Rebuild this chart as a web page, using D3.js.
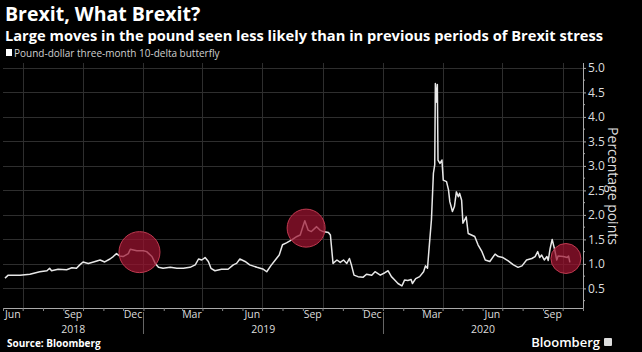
<!DOCTYPE html>
<html>
<head>
<meta charset="utf-8">
<script src="https://cdn.jsdelivr.net/npm/d3@7"></script>
<style>
  html, body { margin: 0; padding: 0; background: #000; }
  svg { display: block; }
  text { font-family: "Open Sans", "DejaVu Sans", sans-serif; }
</style>
</head>
<body>
<div id="app"></div>
<script>
// butterfly series (date, percentage points)
const dates = [
  '2018-06-04','2018-06-09','2018-06-27','2018-07-12','2018-07-27','2018-08-07','2018-08-11','2018-08-14',
  '2018-08-24','2018-09-06','2018-09-14','2018-09-21','2018-09-26','2018-10-01','2018-10-09','2018-10-17',
  '2018-10-27','2018-11-03','2018-11-11','2018-11-16','2018-11-21','2018-11-26','2018-12-01','2018-12-09',
  '2018-12-12','2018-12-22','2019-01-01','2019-01-06','2019-01-14','2019-01-19','2019-01-24','2019-01-31',
  '2019-02-11','2019-02-21','2019-03-03','2019-03-13','2019-03-21','2019-03-26','2019-03-31','2019-04-05',
  '2019-04-10','2019-04-14','2019-04-20','2019-04-30','2019-05-10','2019-05-18','2019-05-23','2019-05-28',
  '2019-06-05','2019-06-12','2019-06-23','2019-07-03','2019-07-08','2019-07-14','2019-07-21','2019-07-27',
  '2019-08-01','2019-08-07','2019-08-15','2019-08-23','2019-08-28','2019-09-01','2019-09-04','2019-09-09',
  '2019-09-14','2019-09-22','2019-09-27','2019-10-02','2019-10-10','2019-10-13','2019-10-17','2019-10-23',
  '2019-10-28','2019-11-02','2019-11-07','2019-11-11','2019-11-14','2019-11-18','2019-11-24','2019-12-02',
  '2019-12-07','2019-12-15','2019-12-20','2019-12-28','2020-01-04','2020-01-09','2020-01-14','2020-01-19',
  '2020-01-24','2020-01-30','2020-02-03','2020-02-08','2020-02-13','2020-02-15','2020-02-20','2020-02-26',
  '2020-03-03','2020-03-06','2020-03-09','2020-03-11','2020-03-15','2020-03-18','2020-03-20','2020-03-21',
  '2020-03-23','2020-03-24','2020-03-25','2020-03-28','2020-03-31','2020-04-02','2020-04-07','2020-04-10',
  '2020-04-12','2020-04-16','2020-04-19','2020-04-22','2020-04-25','2020-04-27','2020-04-30','2020-05-02',
  '2020-05-07','2020-05-10','2020-05-15','2020-05-20','2020-05-25','2020-05-31','2020-06-05','2020-06-12',
  '2020-06-20','2020-06-25','2020-07-02','2020-07-10','2020-07-18','2020-07-25','2020-07-31','2020-08-07',
  '2020-08-15','2020-08-20','2020-08-24','2020-08-27','2020-08-30','2020-09-03','2020-09-07','2020-09-09',
  '2020-09-12','2020-09-15','2020-09-19','2020-09-22','2020-09-24','2020-10-02','2020-10-08','2020-10-10',
  '2020-10-12'
];
const butterfly = [
  0.71,0.77,0.77,0.79,0.84,0.86,0.91,0.86,
  0.89,0.88,0.92,0.91,0.98,1.04,1.01,1.04,
  1.08,1.04,1.10,1.15,1.21,1.16,1.15,1.21,
  1.30,1.27,1.27,1.25,1.15,1.01,0.93,0.91,
  0.93,0.91,0.91,0.93,0.98,1.10,1.08,1.13,
  1.05,0.91,0.86,0.89,0.89,0.98,1.01,1.10,
  1.05,0.98,0.93,0.89,0.84,0.96,1.08,1.18,
  1.39,1.43,1.49,1.56,1.59,1.76,1.88,1.69,
  1.66,1.76,1.69,1.66,1.64,1.59,1.01,1.08,
  1.03,1.08,1.01,1.11,0.98,0.77,0.74,0.73,
  0.79,0.77,0.84,0.77,0.82,0.86,0.74,0.67,
  0.60,0.55,0.67,0.66,0.68,0.60,0.70,0.74,
  0.84,0.96,0.91,1.25,1.90,2.85,3.02,4.68,
  4.30,4.66,3.12,3.05,3.12,2.71,2.68,2.51,
  2.27,2.07,2.17,2.47,2.37,2.44,2.30,1.83,
  1.96,1.62,1.59,1.56,1.39,1.25,1.08,1.05,
  1.20,1.15,1.13,1.06,0.98,0.93,0.96,1.08,
  1.11,1.15,1.25,1.13,1.18,1.08,1.15,1.07,
  1.32,1.50,1.28,1.08,1.16,1.15,1.13,1.16,
  1.03
];

// highlighted stress periods (circle centres)
const highlightDates = ['2018-12-26', '2019-09-06', '2020-10-06'];
const highlightValues = [1.24, 1.73, 1.11];
const highlightRadius = [20.5, 19, 15];

const yTicks = [0.5, 1.0, 1.5, 2.0, 2.5, 3.0, 3.5, 4.0, 4.5, 5.0];
const monthLabels = ['Jun', 'Sep', 'Dec', 'Mar', 'Jun', 'Sep', 'Dec', 'Mar', 'Jun', 'Sep'];
const years = [2018, 2019, 2020];

const W = 642, H = 352;
const plot = { left: 3, right: 583, top: 63, bottom: 308 };
const parse = d3.timeParse('%Y-%m-%d');
const series = dates.map((d, i) => ({ date: parse(d), value: butterfly[i] }));

const x = d3.scaleTime()
  .domain([new Date(2018, 5, 1), new Date(2020, 10, 1)])
  .range([plot.left, plot.right]);
const y = d3.scaleLinear()
  .domain([0.1, 5.1])
  .range([plot.bottom, plot.top]);

const svg = d3.select('#app').append('svg')
  .attr('width', W)
  .attr('height', H)
  .style('background', '#000');

// titles
svg.append('text')
  .attr('x', 5).attr('y', 21)
  .attr('fill', '#fff')
  .style('font-size', '19.5px').style('font-weight', 700)
  .text('Brexit, What Brexit?');
svg.append('text')
  .attr('x', 5).attr('y', 41)
  .attr('fill', '#fff')
  .style('font-size', '14px').style('font-weight', 700)
  .attr('textLength', 598).attr('lengthAdjust', 'spacingAndGlyphs')
  .text('Large moves in the pound seen less likely than in previous periods of Brexit stress');

// legend
svg.append('rect')
  .attr('x', 6).attr('y', 49).attr('width', 6).attr('height', 7)
  .attr('fill', '#fff');
svg.append('text')
  .attr('x', 14).attr('y', 57)
  .attr('fill', '#d0d0d0')
  .style('font-size', '10px')
  .text('Pound-dollar three-month 10-delta butterfly');

// grid
const grid = svg.append('g').attr('stroke', '#2e2e2e').attr('stroke-width', 1);
grid.selectAll('.hg')
  .data(yTicks)
  .enter().append('line')
  .attr('x1', plot.left).attr('x2', plot.right)
  .attr('y1', d => Math.round(y(d)) + 0.5).attr('y2', d => Math.round(y(d)) + 0.5);
grid.selectAll('.vg')
  .data(d3.timeMonth.range(new Date(2018, 6, 1), x.domain()[1], 3))
  .enter().append('line')
  .attr('x1', d => Math.round(x(d)) + 0.5).attr('x2', d => Math.round(x(d)) + 0.5)
  .attr('y1', plot.top).attr('y2', plot.bottom);

// right axis
const yAxis = svg.append('g')
  .attr('transform', `translate(${plot.right},0)`)
  .call(d3.axisRight(y).tickValues(yTicks).tickFormat(d3.format('.1f')).tickSize(3).tickPadding(2));
yAxis.select('.domain').attr('d', `M0.5,${plot.top}V${plot.bottom}`);
yAxis.selectAll('line').attr('stroke', '#aaa');
yAxis.select('.domain').attr('stroke', '#aaa');
yAxis.selectAll('text').attr('fill', '#ddd').style('font-size', '12px');
svg.append('g')
  .attr('stroke', '#aaa')
  .selectAll('line')
  .data(d3.range(0.25, 5.1, 0.5))
  .enter().append('line')
  .attr('x1', plot.right).attr('x2', plot.right + 2)
  .attr('y1', d => y(d)).attr('y2', d => y(d));

svg.append('text')
  .attr('transform', `translate(608,186) rotate(90)`)
  .attr('text-anchor', 'middle')
  .attr('fill', '#ddd')
  .style('font-size', '14px')
  .text('Percentage points');

// bottom axis
const xAxis = svg.append('g')
  .attr('transform', `translate(0,${plot.bottom})`)
  .call(d3.axisBottom(x).ticks(d3.timeMonth.every(1)).tickSize(3).tickFormat(''));
xAxis.select('.domain').attr('d', `M${plot.left},0.5H${plot.right}`).attr('stroke', '#aaa');
xAxis.selectAll('line').attr('stroke', '#888');

const labelMonths = d3.timeMonth.range(new Date(2018, 5, 1), new Date(2020, 9, 1), 3);
svg.append('g')
  .selectAll('text')
  .data(labelMonths)
  .enter().append('text')
  .attr('x', d => x(d3.timeDay.offset(d, 15)))
  .attr('y', 318)
  .attr('text-anchor', 'middle')
  .attr('fill', '#ddd')
  .style('font-size', '10.5px')
  .text((d, i) => monthLabels[i]);

svg.append('g')
  .selectAll('text')
  .data(years)
  .enter().append('text')
  .attr('x', d => {
    const a = Math.max(x(new Date(d, 0, 1)), plot.left);
    const b = Math.min(x(new Date(d + 1, 0, 1)), plot.right);
    return (a + b) / 2;
  })
  .attr('y', 333)
  .attr('text-anchor', 'middle')
  .attr('fill', '#ddd')
  .style('font-size', '10.5px')
  .text(d => d);

svg.append('g')
  .attr('stroke', '#666')
  .selectAll('line')
  .data([new Date(2019, 0, 1), new Date(2020, 0, 1)])
  .enter().append('line')
  .attr('x1', d => Math.round(x(d)) + 0.5).attr('x2', d => Math.round(x(d)) + 0.5)
  .attr('y1', 312).attr('y2', 334);

// line
const line = d3.line()
  .x(d => x(d.date))
  .y(d => y(d.value));
svg.append('path')
  .datum(series)
  .attr('fill', 'none')
  .attr('stroke', '#e8e8e8')
  .attr('stroke-width', 1.5)
  .attr('stroke-linejoin', 'round')
  .attr('d', line);

// highlight circles
svg.append('g')
  .selectAll('circle')
  .data(highlightDates)
  .enter().append('circle')
  .attr('cx', d => x(parse(d)))
  .attr('cy', (d, i) => y(highlightValues[i]))
  .attr('r', (d, i) => highlightRadius[i])
  .attr('fill', '#9e1430')
  .attr('fill-opacity', 0.72)
  .attr('stroke', '#c03a50')
  .attr('stroke-width', 1);

// footer
svg.append('text')
  .attr('x', 7).attr('y', 347)
  .attr('fill', '#fff')
  .style('font-size', '10px').style('font-weight', 700)
  .text('Source: Bloomberg');
svg.append('text')
  .attr('x', 600).attr('y', 347)
  .attr('text-anchor', 'end')
  .attr('fill', '#fff')
  .style('font-size', '13px').style('font-weight', 600)
  .text('Bloomberg');
svg.append('rect')
  .attr('x', 604).attr('y', 338).attr('width', 8).attr('height', 8).attr('rx', 1)
  .attr('fill', '#ddd');
</script>
</body>
</html>
